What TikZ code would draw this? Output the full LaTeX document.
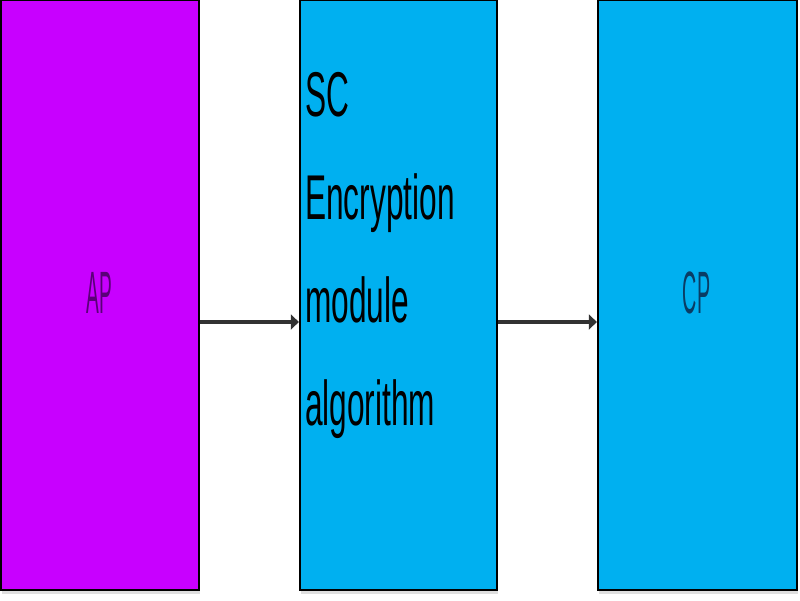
\documentclass[tikz,border=0pt]{standalone}
\usepackage{fontspec}
\setmainfont{Liberation Sans}
\definecolor{appurple}{RGB}{200, 0, 255}
\definecolor{modblue}{RGB}{0, 176, 240}
\definecolor{aptext}{RGB}{90, 0, 120}
\definecolor{cptext}{RGB}{10, 60, 100}
\definecolor{arrowgray}{RGB}{50, 50, 50}
\usetikzlibrary{arrows.meta, positioning, shadows}
\tikzset{
  modbox/.style={draw=black, line width=1.3pt, minimum height=11.8cm, inner sep=0pt,
    drop shadow={shadow xshift=0.4pt, shadow yshift=-2pt, opacity=0.25}},
  flowarrow/.style={draw=arrowgray, line width=2.8pt, -{Triangle[length=0.16cm, width=0.3cm]}}
}

\begin{document}
\begin{tikzpicture}
  \useasboundingbox (0, 0) rectangle (16, 12);

  % The three blocks
  \node[modbox, fill=appurple, minimum width=3.96cm] (ap) at (2, 6.1) {};
  \node[modbox, fill=modblue, minimum width=3.94cm] (sc) at (7.97, 6.1) {};
  \node[modbox, fill=modblue, minimum width=3.98cm] (cp) at (13.95, 6.1) {};

  % Labels
  \node[font=\fontsize{34}{40}\selectfont, text=aptext, xscale=0.32] (aplabel) at (1.98, 6.14) {AP};
  \node[font=\fontsize{34}{40}\selectfont, text=cptext, xscale=0.33] (cplabel) at (13.93, 6.14) {CP};
  \node[font=\fontsize{36}{58.6}\selectfont, align=left, inner sep=0pt, anchor=north west, xscale=0.5]
    (sclabel) at (6.1, 10.56) {SC\\Encryption\\module\\algorithm};

  % Data flow
  \draw[flowarrow] ([yshift=-0.54cm]ap.east) -- ([yshift=-0.54cm]sc.west);
  \draw[flowarrow] ([yshift=-0.54cm]sc.east) -- ([yshift=-0.54cm]cp.west);
\end{tikzpicture}
\end{document}
